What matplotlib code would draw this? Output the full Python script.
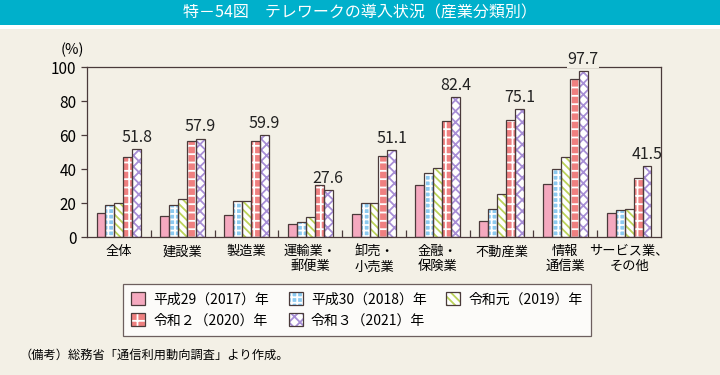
import matplotlib
matplotlib.use("Agg")
import matplotlib.pyplot as plt
import numpy as np
from matplotlib.patches import Patch, Rectangle
from matplotlib.legend_handler import HandlerTuple

plt.rcParams["font.family"] = ["Noto Sans CJK JP", "DejaVu Sans"]
plt.rcParams["hatch.linewidth"] = 1.3

# データ
categories = ["全体", "建設業", "製造業", "運輸業・\n郵便業", "卸売・\n小売業",
              "金融・\n保険業", "不動産業", "情報\n通信業", "サービス業、\nその他"]
series_names = ["平成29（2017）年", "平成30（2018）年", "令和元（2019）年",
                "令和２（2020）年", "令和３（2021）年"]
h29 = [14.1, 12.3, 12.9, 7.6, 13.5, 30.3, 9.6, 31.1, 13.9]
h30 = [19.1, 19.1, 20.9, 8.6, 19.9, 37.5, 16.6, 40.0, 15.8]
r01 = [19.9, 22.5, 20.9, 11.9, 19.9, 40.8, 25.2, 46.9, 16.2]
r02 = [47.3, 56.4, 56.4, 30.7, 47.9, 68.0, 68.6, 92.8, 34.6]
r03 = [51.8, 57.9, 59.9, 27.6, 51.1, 82.4, 75.1, 97.7, 41.5]

BG = "#f3f0e6"
EDGE = "#4a3a3a"
# (塗り, ハッチ色, ハッチ)
styles = [
    ("#f5a9bf", "#f5a9bf", None),
    ("#8ccaf0", "#ffffff", "+++"),
    ("#ffffff", "#bcd35a", "\\\\\\\\"),
    ("#ef8080", "#ffffff", "++"),
    ("#ffffff", "#a88fd6", "xxx"),
]

fig = plt.figure(figsize=(7.2, 3.75), dpi=100, facecolor=BG)

# タイトル帯
fig.patches.append(Rectangle((0, 1 - 25 / 375), 1, 25 / 375, transform=fig.transFigure,
                             facecolor="#00b0cb", edgecolor="none"))
fig.patches.append(Rectangle((0, 1 - 29 / 375), 1, 4 / 375, transform=fig.transFigure,
                             facecolor="white", edgecolor="none"))
fig.text(0.5, 1 - 13 / 375, "特－54図　テレワークの導入状況（産業分類別）",
         ha="center", va="center", color="white", fontsize=11.5)

ax = fig.add_axes([87 / 720, 1 - 237 / 375, 574 / 720, 170 / 375])
ax.set_facecolor(BG)

x = np.arange(len(categories))
w = 0.14
handles = []
for j, vals in enumerate([h29, h30, r01, r02, r03]):
    face, hc, hatch = styles[j]
    off = (j - 2) * w
    ax.bar(x + off, vals, w, color=face, edgecolor=hc, hatch=hatch, linewidth=0, zorder=2)
    ax.bar(x + off, vals, w, fill=False, edgecolor=EDGE, linewidth=0.9, zorder=3)
    handles.append((Patch(facecolor=face, edgecolor=hc, hatch=hatch, linewidth=0),
                    Patch(fill=False, edgecolor=EDGE, linewidth=0.9)))
    if j == 4:
        for xi, v in zip(x, vals):
            ax.text(xi + off, v + 2, f"{v:.1f}", ha="center", va="bottom",
                    fontsize=11.5, color="#222222", zorder=5,
                    bbox=dict(facecolor=BG, edgecolor="none", pad=0.5) if v > 95 else None)

ax.set_xlim(-0.5, len(categories) - 0.5)
ax.set_ylim(0, 100)
ax.set_yticks(range(0, 101, 20))
ax.set_xticks(x)
ax.set_xticklabels(categories, fontsize=9.5, linespacing=1.2)
ax.tick_params(axis="x", length=0, pad=6)
ax.tick_params(axis="y", labelsize=11, length=4, width=0.9, color=EDGE)
ax.set_xticks(np.arange(0.5, len(categories) - 1, 1), minor=True)
ax.tick_params(axis="x", which="minor", direction="in", length=5, width=0.9, color=EDGE)
for s in ax.spines.values():
    s.set_color(EDGE)
    s.set_linewidth(0.9)
fig.text(72 / 720, 1 - 50 / 375, "(%)", ha="center", va="center", fontsize=10.5)

order = [0, 3, 1, 4, 2]
leg = fig.legend([handles[i] for i in order], [series_names[i] for i in order],
                 ncol=3, loc="upper left", bbox_to_anchor=(123 / 720, 1 - 284 / 375),
                 handler_map={tuple: HandlerTuple(ndivide=1, pad=0)},
                 handlelength=1.0, handleheight=1.0, handletextpad=0.6,
                 columnspacing=1.4, labelspacing=0.5, fontsize=10,
                 frameon=True, fancybox=False, borderpad=0.6, borderaxespad=0)
leg.get_frame().set_edgecolor(EDGE)
leg.get_frame().set_linewidth(0.9)
leg.get_frame().set_facecolor("white")

fig.text(20 / 720, 1 - 355 / 375, "（備考）総務省「通信利用動向調査」より作成。",
         ha="left", va="center", fontsize=8.8)

fig.savefig("out.png", dpi=100, facecolor=BG)
